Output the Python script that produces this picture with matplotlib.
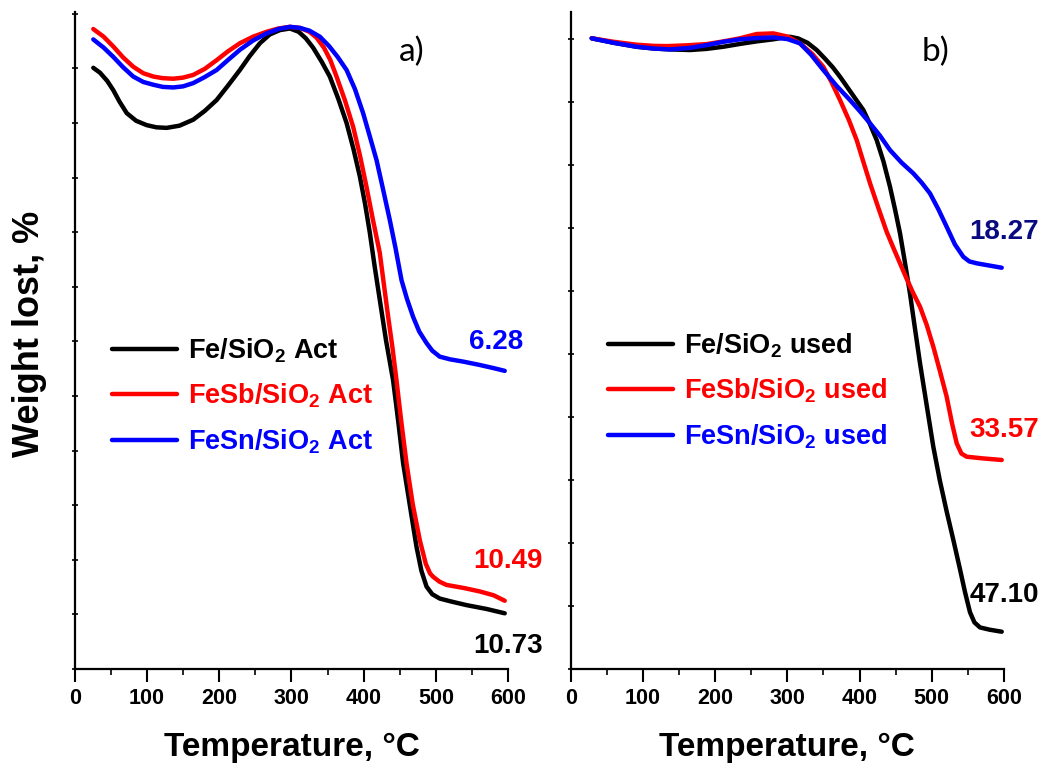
import matplotlib
matplotlib.use("Agg")
import matplotlib.pyplot as plt

plt.rcParams['font.family'] = ['Liberation Sans', 'DejaVu Sans']
plt.rcParams['mathtext.default'] = 'regular'

# ---- Panel a) : activated catalysts (weight, %) ----
t_fe_act = [25.7, 35, 45, 53.4, 62, 72, 85, 99.6, 113, 127.3, 145, 164.1, 180, 196.5, 212, 228.7, 242,
            256.4, 270, 284, 298, 310, 320, 330, 342, 353.2, 365, 376.4, 386, 394.8, 402, 408.6, 415,
            422.4, 431, 440.8, 448, 454.7, 464, 473.2, 480, 487.1, 495, 505.4, 520, 542.4, 570, 595.4]
w_fe_act = [99.01, 98.92, 98.77, 98.60, 98.39, 98.18, 98.04, 97.96, 97.92, 97.91, 97.95, 98.06, 98.22,
            98.42, 98.68, 98.97, 99.22, 99.46, 99.62, 99.70, 99.73, 99.67, 99.55, 99.38, 99.12, 98.85,
            98.44, 98.00, 97.52, 97.02, 96.52, 95.99, 95.40, 94.76, 94.02, 93.29, 92.53, 91.77, 91.00,
            90.24, 89.80, 89.51, 89.37, 89.29, 89.24, 89.17, 89.10, 89.02]

t_fesb_act = [25.7, 40, 53.4, 67, 81, 95, 108.8, 122, 136.4, 150, 164.1, 180, 196.5, 212, 228.7, 247,
              265.7, 282, 298, 312, 325, 335, 345, 354, 362.5, 374, 385.5, 395, 404, 413, 422.4, 428,
              434, 440, 445.5, 452, 459.4, 468, 477.8, 486, 492, 496.2, 505, 514.7, 540, 560.9, 580, 595.4]
w_fesb_act = [99.72, 99.58, 99.40, 99.20, 99.03, 98.91, 98.85, 98.82, 98.81, 98.83, 98.88, 98.99, 99.15,
              99.31, 99.46, 99.58, 99.67, 99.73, 99.76, 99.74, 99.67, 99.56, 99.38, 99.15, 98.85, 98.42,
              97.93, 97.40, 96.83, 96.22, 95.62, 95.05, 94.45, 93.88, 93.29, 92.55, 91.77, 91.02, 90.36,
              89.93, 89.75, 89.69, 89.60, 89.54, 89.48, 89.42, 89.35, 89.25]

t_fesn_act = [25.7, 40, 53.4, 67, 81, 95, 108.8, 122, 136.4, 150, 164.1, 180, 196.5, 212, 228.7, 247,
              265.7, 282, 298, 312, 325, 339.4, 352, 364, 376.4, 388, 399.3, 408, 417.9, 427, 436.3, 444,
              452.5, 460, 468.5, 477, 487.1, 495, 505.4, 520, 537.7, 560, 580, 595.4]
w_fesn_act = [99.53, 99.38, 99.21, 99.02, 98.85, 98.75, 98.70, 98.66, 98.65, 98.67, 98.73, 98.84, 98.97,
              99.15, 99.34, 99.51, 99.64, 99.72, 99.76, 99.74, 99.69, 99.58, 99.41, 99.21, 98.97, 98.62,
              98.18, 97.78, 97.32, 96.78, 96.22, 95.72, 95.12, 94.78, 94.45, 94.18, 93.97, 93.83, 93.72,
              93.67, 93.63, 93.57, 93.51, 93.46]

# ---- Panel b) : used catalysts (weight, %) ----
t_fe_used = [29.1, 60, 91.4, 115, 137.5, 165.2, 188, 211.3, 235, 258, 280.5, 295, 303.7, 315, 328,
             340.6, 352, 363, 372.9, 384, 395, 405.2, 414, 423.7, 433, 442.1, 449, 456, 463, 469.8,
             476.5, 483.7, 493, 502.1, 511, 520.6, 530, 539.1, 546, 552.9, 559, 566.7, 580, 596.8]
w_fe_used = [100.06, 99.70, 99.39, 99.25, 99.18, 99.13, 99.22, 99.39, 99.62, 99.82, 99.98, 100.12, 100.18,
             100.05, 99.70, 99.13, 98.45, 97.75, 97.01, 96.10, 95.20, 94.37, 93.30, 91.98, 90.30, 88.28,
             86.50, 84.58, 82.20, 79.80, 77.10, 74.26, 70.90, 67.64, 65.00, 62.50, 60.20, 57.90, 56.10,
             54.50, 53.70, 53.30, 53.12, 52.96]

t_fesb_used = [29.1, 60, 91.4, 115, 132.9, 160, 188.3, 212, 234.4, 257.5, 280.5, 300, 317.5, 334, 349.8,
               361, 372.9, 385, 396, 405, 414.5, 426, 437.5, 447, 456, 465, 474.4, 483.7, 493, 502.1, 511,
               520.6, 528, 534.5, 541, 548.3, 570, 596.8]
w_fesb_used = [100.06, 99.78, 99.55, 99.46, 99.44, 99.50, 99.60, 99.82, 100.06, 100.40, 100.45, 100.20,
               99.66, 98.85, 97.80, 96.60, 95.16, 93.60, 91.98, 90.30, 88.55, 86.60, 84.70, 83.40, 82.20,
               81.00, 79.82, 78.75, 77.30, 75.58, 73.70, 71.61, 69.50, 67.91, 67.10, 66.85, 66.72, 66.59]

t_fesn_used = [29.1, 60, 91.4, 115, 137.5, 165, 188.3, 211, 234.4, 258, 280.5, 300, 317.5, 333, 349.8,
               368, 386.7, 400, 414.5, 428, 442.1, 458, 474.4, 486, 497.5, 509, 520.6, 532, 543.6, 552,
               562.2, 580, 596.8]
w_fesn_used = [100.06, 99.70, 99.39, 99.25, 99.18, 99.30, 99.52, 99.78, 99.98, 100.08, 100.13, 100.00,
               99.66, 98.75, 97.54, 96.30, 95.16, 94.30, 93.31, 92.35, 91.19, 90.20, 89.34, 88.60, 87.75,
               86.50, 85.10, 83.70, 82.72, 82.35, 82.20, 82.02, 81.85]

labels_act = ['Fe/SiO$_2$ Act', 'FeSb/SiO$_2$ Act', 'FeSn/SiO$_2$ Act']
labels_used = ['Fe/SiO$_2$ used', 'FeSb/SiO$_2$ used', 'FeSn/SiO$_2$ used']
loss_act = ['10.73', '10.49', '6.28']
loss_used = ['47.10', '33.57', '18.27']
colors = ['black', '#ff0000', '#0000ff']
loss_colors_used = ['black', '#ff0000', '#0a0a80']

fig = plt.figure(figsize=(10.51, 7.71), dpi=100)
axL = fig.add_axes([0.0711, 0.1323, 0.4123, 0.852])
axR = fig.add_axes([0.5430, 0.1323, 0.4123, 0.852])

lw = 3.2
for t, w, c, lab in zip([t_fe_act, t_fesb_act, t_fesn_act], [w_fe_act, w_fesb_act, w_fesn_act], colors, labels_act):
    axL.plot(t, w, color=c, lw=lw, label=lab, solid_capstyle='round', solid_joinstyle='round')
for t, w, c, lab in zip([t_fe_used, t_fesb_used, t_fesn_used], [w_fe_used, w_fesb_used, w_fesn_used], colors, labels_used):
    axR.plot(t, w, color=c, lw=lw, label=lab, solid_capstyle='round', solid_joinstyle='round')

axL.set_ylim(88.0, 100.03)
axR.set_ylim(50.0, 102.14)
axL.set_yticks([88 + i for i in range(13)])
axR.set_yticks([50 + 5 * i for i in range(11)])

for ax in (axL, axR):
    ax.set_xlim(0, 600)
    ax.set_xticks(range(0, 601, 100))
    ax.set_xticks(range(50, 600, 100), minor=True)
    ax.spines['top'].set_visible(False)
    ax.spines['right'].set_visible(False)
    ax.spines['left'].set_linewidth(1.6)
    ax.spines['bottom'].set_linewidth(1.6)
    ax.tick_params(axis='x', which='major', direction='out', length=9, width=1.5,
                   labelsize=15.5, pad=5)
    ax.tick_params(axis='x', which='minor', direction='out', length=4, width=1.2)
    ax.tick_params(axis='y', which='major', direction='inout', length=4, width=1.2,
                   labelleft=False)
    for lbl in ax.get_xticklabels():
        lbl.set_fontweight('bold')
    ax.set_xlabel('Temperature, °C', fontsize=24, fontweight='bold', labelpad=16)
    ax.patch.set_alpha(0)

axL.set_ylabel('Weight lost, %', fontsize=26, fontweight='bold')
axL.yaxis.set_label_coords(-0.064, 0.51)

legprops = dict(prop={'weight': 'bold', 'size': 19.5}, frameon=False, handlelength=2.4,
                handletextpad=0.4, labelspacing=0.62, labelcolor='linecolor')
axL.legend(loc='upper left', bbox_to_anchor=(0.03, 0.543), **legprops)
axR.legend(loc='upper left', bbox_to_anchor=(0.03, 0.551), **legprops)

axL.text(0.778, 0.94, 'a)', transform=axL.transAxes, fontsize=24, family=['Lato', 'DejaVu Sans'],
         ha='center', va='center')
axR.text(0.841, 0.94, 'b)', transform=axR.transAxes, fontsize=24, family=['Lato', 'DejaVu Sans'],
         ha='center', va='center')

# end-value annotations (weight loss, %)
axL.text(600, w_fe_act[-1] - 0.6, loss_act[0], color=colors[0], fontsize=20, fontweight='bold',
         ha='center', va='center')
axL.text(600, w_fesb_act[-1] + 0.72, loss_act[1], color=colors[1], fontsize=20, fontweight='bold',
         ha='center', va='center')
axL.text(584, w_fesn_act[-1] + 0.53, loss_act[2], color=colors[2], fontsize=20, fontweight='bold',
         ha='center', va='center')

axR.text(600, w_fe_used[-1] + 2.9, loss_used[0], color=loss_colors_used[0], fontsize=20, fontweight='bold',
         ha='center', va='center')
axR.text(600, w_fesb_used[-1] + 2.35, loss_used[1], color=loss_colors_used[1], fontsize=20, fontweight='bold',
         ha='center', va='center')
axR.text(600, w_fesn_used[-1] + 2.85, loss_used[2], color=loss_colors_used[2], fontsize=20, fontweight='bold',
         ha='center', va='center')

fig.savefig('out.png', dpi=100)
